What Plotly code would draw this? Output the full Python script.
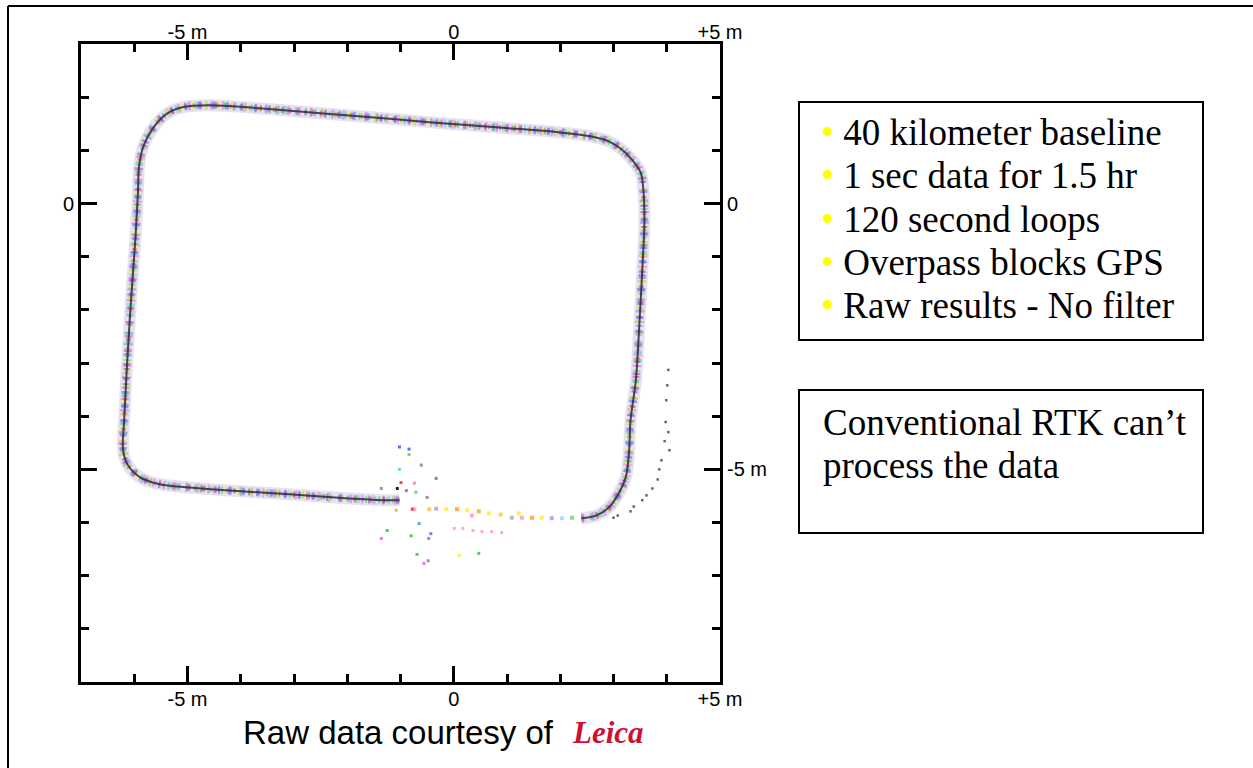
import plotly.graph_objects as go

# ---------------- data (metres) ----------------
track_x = [2.40, 2.67, 2.91, 3.10, 3.23, 3.29, 3.32, 3.42, 3.49, 3.55, 3.58, 3.56, 3.51, 3.34, 3.15,
           2.91, 2.59, 1.97, 0.98, -0.09, -1.15, -2.39, -3.65, -4.60, -5.10, -5.40, -5.66, -5.82,
           -5.91, -5.93, -5.98, -6.06, -6.13, -6.19, -6.21, -6.12, -5.89, -5.52, -4.96, -4.21,
           -3.09, -1.96, -1.34, -1.02]
track_y = [-5.92, -5.87, -5.72, -5.45, -5.15, -4.70, -4.08, -3.32, -2.19, -1.06, -0.36, 0.26, 0.58,
           0.83, 1.02, 1.17, 1.26, 1.34, 1.42, 1.50, 1.59, 1.69, 1.79, 1.85, 1.81, 1.68, 1.40, 1.10,
           0.70, 0.21, -0.68, -1.81, -2.94, -4.08, -4.64, -4.92, -5.15, -5.28, -5.34, -5.40, -5.47,
           -5.55, -5.58, -5.58]

# sparse fixes under the overpass
gap_x = [-0.74, -0.46, -0.33, -0.14, 0.06, 0.25, 0.34, 0.47, 0.66, 0.88, 1.09, 1.22, 1.28, 1.47,
         1.65, 1.84, 2.03, 2.22]
gap_y = [-5.75, -5.75, -5.74, -5.75, -5.75, -5.77, -5.87, -5.79, -5.83, -5.85, -5.91, -5.83, -5.91,
         -5.91, -5.91, -5.92, -5.92, -5.91]
gap_colors = ["#ffaacc", "#ffcc66", "#bbbbbb", "#ffee55", "#ffb347", "#ffee55", "#ffaacc", "#ffb347",
              "#ffee55", "#ffcc66", "#bbbbbb", "#ffee55", "#ffaacc", "#ffb347", "#ffee55", "#cc99ff",
              "#aaddff", "#88dd88"]

# scattered outliers near the overpass
out_x = [-1.02, -0.84, -0.84, -0.61, -1.02, -0.33, -0.99, -0.74, -1.06, -1.36, -0.89, -0.71, -0.50,
         -1.08, -0.78, -0.65, -1.25, -0.43, -1.36, -0.80, -0.47, -0.69, -0.48, -0.56, 0.10, 0.47,
         0.01, 0.17, 0.36, 0.53, 0.71, 0.90]
out_y = [-4.58, -4.62, -4.72, -4.92, -5.00, -5.17, -5.25, -5.26, -5.36, -5.36, -5.40, -5.43, -5.53,
         -5.77, -5.75, -6.02, -6.15, -6.21, -6.30, -6.25, -6.30, -6.60, -6.72, -6.77, -6.62, -6.58,
         -6.11, -6.11, -6.15, -6.17, -6.17, -6.19]
out_colors = ["#6666ff", "#6666ff", "#66dd66", "#999999", "#66dddd", "#888888", "#ff4444", "#ff88cc",
              "#222222", "#999999", "#dd55dd", "#66dd66", "#999999", "#ffb347", "#ff4444", "#6699ff",
              "#55cc55", "#aa66ff", "#ff66ff", "#55cc55", "#999999", "#55cc55", "#999999", "#ff66ff",
              "#ffee55", "#55cc55", "#ffaacc", "#ffaacc", "#ffaacc", "#ffaacc", "#ffaacc", "#ffaacc"]

# grey trail of fixes to the right of the loop
trail_x = [4.03, 4.01, 3.99, 3.98, 4.03, 3.96, 4.05, 3.90, 3.86, 3.83, 3.73, 3.62, 3.54, 3.38, 3.32,
           3.08, 3.00]
trail_y = [-3.13, -3.42, -3.70, -4.11, -4.30, -4.47, -4.64, -4.83, -5.00, -5.19, -5.36, -5.49, -5.58,
           -5.70, -5.79, -5.87, -5.91]

x_tick_vals = [-5, 0, 5]
x_tick_text = ["-5 m", "0", "+5 m"]
y_left_vals = [0, -5]
y_left_text = ["0", ""]
y_right_vals = [0, -5]
y_right_text = ["0", "-5 m"]

bullets = ["40 kilometer baseline", "1 sec data for 1.5 hr", "120 second loops",
           "Overpass blocks GPS", "Raw results - No filter"]
note_lines = ["Conventional RTK can\u2019t", "process the data"]
caption = "Raw data courtesy of"
logo = "Leica"

# ---------------- layout helpers (pixel -> paper) ----------------
W, H = 1253, 768
L, R, T, B = 81, 720, 44, 682


def px(xp):
    return (xp - L) / (R - L)


def py(yp):
    return (B - yp) / (B - T)


fig = go.Figure()

# light band of the many overlapping loops
fig.add_trace(go.Scatter(x=track_x, y=track_y, mode="lines",
                         line=dict(color="rgba(200,190,225,0.45)", width=12, shape="spline"),
                         hoverinfo="skip"))
loop_styles = [("#ff55ff", "2px,9px", 9), ("#44dd44", "2px,7px", 7), ("#4477ff", "3px,11px", 6),
               ("#44dddd", "2px,8px", 8), ("#ff3333", "2px,13px", 5), ("#ffee33", "3px,10px", 7),
               ("#999999", "2px,6px", 5), ("#aa66ff", "2px,12px", 8)]
for col, dash, wd in loop_styles:
    fig.add_trace(go.Scatter(x=track_x, y=track_y, mode="lines",
                             line=dict(color=col, width=wd, dash=dash, shape="spline"),
                             opacity=0.55, hoverinfo="skip"))
# dark core
fig.add_trace(go.Scatter(x=track_x, y=track_y, mode="lines",
                         line=dict(color="rgba(50,35,70,0.85)", width=2, shape="spline"),
                         hoverinfo="skip"))
fig.add_trace(go.Scatter(x=gap_x, y=gap_y, mode="markers",
                         marker=dict(symbol="square", size=4, color=gap_colors)))
fig.add_trace(go.Scatter(x=out_x, y=out_y, mode="markers",
                         marker=dict(symbol="square", size=3, color=out_colors)))
fig.add_trace(go.Scatter(x=trail_x, y=trail_y, mode="markers",
                         marker=dict(symbol="square", size=2.5, color="#666666")))
# invisible trace to carry the mirrored axes
fig.add_trace(go.Scatter(x=[0], y=[0], xaxis="x2", yaxis="y2", mode="markers",
                         marker=dict(opacity=0), hoverinfo="skip"))

tickfont = dict(family="Liberation Sans, Arial", size=20, color="black")
minor = dict(ticks="inside", ticklen=8, tickwidth=3, tickcolor="black", dtick=1, tick0=0,
             showgrid=False)
common = dict(showline=True, linewidth=3, linecolor="black", ticks="inside", ticklen=16,
              tickwidth=3, tickcolor="black", showgrid=False, zeroline=False, tickfont=tickfont,
              minor=minor, fixedrange=True)

fig.update_layout(
    width=W, height=H,
    margin=dict(l=L, r=W - R, t=T, b=H - B, pad=0),
    paper_bgcolor="white", plot_bgcolor="white", showlegend=False,
    xaxis=dict(range=[-7, 5], tickmode="array", tickvals=x_tick_vals, ticktext=x_tick_text,
               side="bottom", anchor="y", ticklabelstandoff=-3, **common),
    xaxis2=dict(range=[-7, 5], tickmode="array", tickvals=x_tick_vals, ticktext=x_tick_text,
                side="top", overlaying="x", anchor="y", ticklabelstandoff=-6, **common),
    yaxis=dict(range=[-9, 3], tickmode="array", tickvals=y_left_vals, ticktext=y_left_text,
               side="left", anchor="x", **common),
    yaxis2=dict(range=[-9, 3], tickmode="array", tickvals=y_right_vals, ticktext=y_right_text,
                side="right", overlaying="y", anchor="x", **common),
)

shapes = [
    # outer frame (left and top edges)
    dict(type="line", xref="paper", yref="paper", x0=px(8), y0=py(6), x1=px(8), y1=py(H + 5),
         line=dict(color="black", width=2)),
    dict(type="line", xref="paper", yref="paper", x0=px(8), y0=py(6), x1=px(W + 5), y1=py(6),
         line=dict(color="black", width=2)),
    # text boxes
    dict(type="rect", xref="paper", yref="paper", x0=px(799), y0=py(102), x1=px(1203), y1=py(340),
         line=dict(color="black", width=2)),
    dict(type="rect", xref="paper", yref="paper", x0=px(799), y0=py(390), x1=px(1203), y1=py(533),
         line=dict(color="black", width=2)),
]
fig.update_layout(shapes=shapes)

serif = "Liberation Serif, Times New Roman"
annotations = []
bullet_mid = [132, 176, 219, 262, 305]
for txt, ym in zip(bullets, bullet_mid):
    annotations.append(dict(
        xref="paper", yref="paper", x=px(819), y=py(ym), xanchor="left", yanchor="middle",
        text='<span style="color:#ffff00">\u2022</span> ' + txt, showarrow=False,
        font=dict(family=serif, size=37, color="black")))
for txt, ym in zip(note_lines, [422, 465]):
    annotations.append(dict(
        xref="paper", yref="paper", x=px(821), y=py(ym), xanchor="left", yanchor="middle",
        text=txt, showarrow=False, font=dict(family=serif, size=37, color="black")))
annotations.append(dict(
    xref="paper", yref="paper", x=px(241), y=py(732), xanchor="left", yanchor="middle",
    text=caption, showarrow=False, font=dict(family="Liberation Sans, Arial", size=33, color="black")))
annotations.append(dict(
    xref="paper", yref="paper", x=px(570), y=py(732), xanchor="left", yanchor="middle",
    text="<b><i>" + logo + "</i></b>", showarrow=False,
    font=dict(family=serif, size=31, color="#cc1133")))
fig.update_layout(annotations=annotations)

fig.write_html("out.html", config={"displayModeBar": False},
               post_script="document.body.style.margin='0';")
